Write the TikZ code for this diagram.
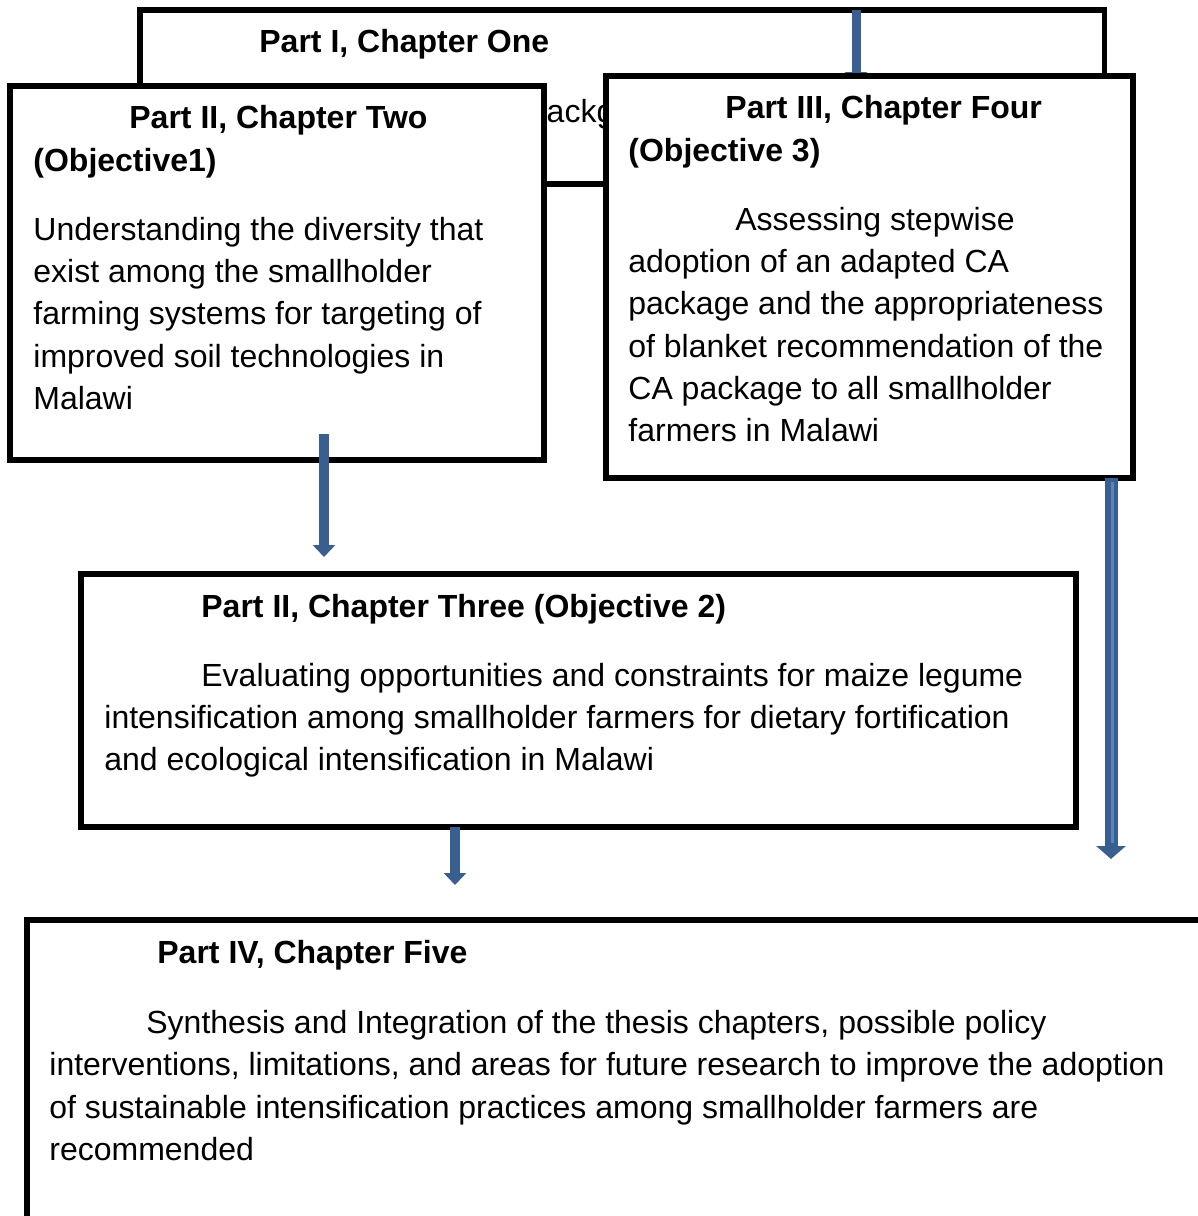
\documentclass[tikz,border=0pt]{standalone}
\usepackage{fontspec}
\setmainfont{Liberation Sans}
\usepackage{xcolor}
\usetikzlibrary{arrows.meta,positioning}
\definecolor{flowblue}{HTML}{385F90}
\definecolor{flowlight}{HTML}{5A86BD}

\tikzset{
  chapbox/.style={draw=black,line width=2.6pt,fill=white,inner sep=0pt,outer sep=0pt,anchor=north west},
  chaptext/.style={anchor=north west,inner sep=0pt,align=left,font=\fontsize{16}{21.1}\selectfont},
  chaphead/.style={chaptext,font=\fontsize{16}{21.5}\selectfont\bfseries},
  flow/.style={line width=5pt,draw=flowblue,-{Triangle[width=11pt,length=6pt]}},
}

\begin{document}
\begin{tikzpicture}[x=0.5pt,y=-0.5pt]
\useasboundingbox (0,0) rectangle (1198,1216);
% Part I
\node[chapbox,minimum width=482.25pt,minimum height=87pt] (one) at (140,10) {};
\node[chaphead] (onehead) at (259,29) {Part I, Chapter One};
\node[chaptext] (onebody) at (525,99) {Background};
\coordinate (fourin) at (856,84);
\draw[flow,line width=4.5pt] (one.north -| fourin) -- (fourin);
% Part II, objective 1
\node[chapbox,minimum width=267pt,minimum height=187pt] (two) at (10,86) {};
\node[chaphead] (twohead) at (33,105) {\hspace*{48pt}Part II, Chapter Two\\(Objective1)};
\node[chaptext] (twobody) at (33,217) {Understanding the diversity that\\exist among the smallholder\\farming systems for targeting of\\improved soil technologies in\\Malawi};
% Part III, objective 3
\node[chapbox,minimum width=263.5pt,minimum height=201pt] (four) at (606,76) {};
\node[chaphead] (fourhead) at (628,95) {\hspace*{48.5pt}Part III, Chapter Four\\(Objective 3)};
\node[chaptext] (fourbody) at (628,207) {\hspace*{53.5pt}Assessing stepwise\\adoption of an adapted CA\\package and the appropriateness\\of blanket recommendation of the\\CA package to all smallholder\\farmers in Malawi};
% Part II, objective 2
\node[chapbox,minimum width=497.5pt,minimum height=126.5pt] (three) at (81,574) {};
\node[chaphead] (threehead) at (201,594) {Part II, Chapter Three (Objective 2)};
\node[chaptext] (threebody) at (104,663) {\hspace*{48.5pt}Evaluating opportunities and constraints for maize legume\\intensification among smallholder farmers for dietary fortification\\and ecological intensification in Malawi};
% Part IV
\node[chapbox,minimum width=589pt,minimum height=152.5pt] (five) at (27,920) {};
\node[chaphead] (fivehead) at (157,940) {Part IV, Chapter Five};
\node[chaptext] (fivebody) at (49,1010) {\hspace*{48.5pt}Synthesis and Integration of the thesis chapters, possible policy\\interventions, limitations, and areas for future research to improve the adoption\\of sustainable intensification practices among smallholder farmers are\\recommended};
% flow arrows
\coordinate (threein) at (324,557);
\coordinate (fivein) at (455,885);
\coordinate (fiveright) at (1111,859);
\draw[flow] (324,434) -- (threein);
\draw[flow] (three.south -| fivein) -- (fivein);
\draw[flow,line width=6.5pt,-{Triangle[width=14.5pt,length=6.5pt]}] (four.south -| fiveright) -- (fiveright);
\draw[flowlight,line width=1.5pt] ([xshift=0.5pt,yshift=-2pt]four.south -| fiveright) -- ([xshift=0.5pt,yshift=8pt]fiveright);
\end{tikzpicture}
\end{document}
